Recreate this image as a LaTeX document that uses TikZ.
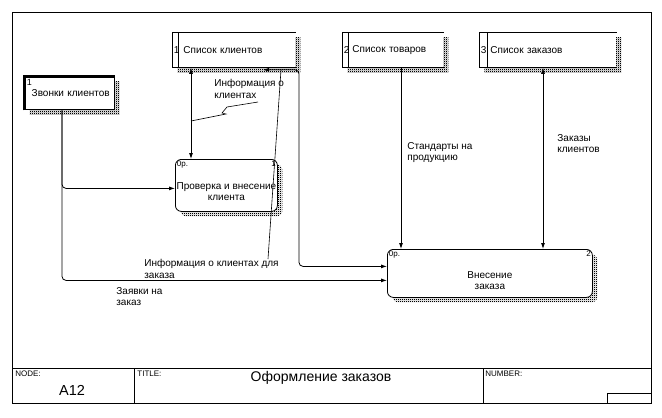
\documentclass[tikz,border=0pt]{standalone}
\usepackage{fontspec}
\setmainfont{Liberation Sans}
\usepackage{tikz}
\usetikzlibrary{arrows.meta,shadows,patterns}

\pgfdeclarepatternformonly{dither}{\pgfpointorigin}{\pgfpoint{2pt}{2pt}}{\pgfpoint{2pt}{2pt}}{%
  \pgfpathrectangle{\pgfpointorigin}{\pgfpoint{1.2pt}{1.2pt}}%
  \pgfpathrectangle{\pgfpoint{1pt}{1pt}}{\pgfpoint{1.2pt}{1.2pt}}%
  \pgfusepath{fill}}

\begin{document}
\begin{tikzpicture}[x=1pt,y=-1pt,line width=0.8pt,
  font=\fontsize{10}{11.5}\selectfont,
  shadebox/.style={general shadow={pattern=dither,shadow xshift=5pt,shadow yshift=-5pt}},
  tag/.style={font=\fontsize{8}{9}\selectfont,inner sep=1.5pt},
  store/.style={shadebox,fill=white,anchor=north west,minimum height=35pt,inner xsep=11pt,align=left,
    label={[tag,anchor=west,font=\fontsize{10}{11}\selectfont,inner xsep=1.5pt]west:#1}},
  extbox/.style={shadebox,draw,fill=white,line width=1.4pt,anchor=north west,minimum width=90pt,minimum height=33pt},
  process/.style={shadebox,draw,fill=white,rounded corners=6pt,anchor=north west},
  lbl/.style={anchor=north west,align=left,inner sep=0pt},
  tb/.style={anchor=north west,inner sep=0pt,font=\fontsize{8}{9}\selectfont},
  flow/.style={-{Latex[length=6pt,width=4pt]}},
  both/.style={{Latex[length=6pt,width=4pt]}-{Latex[length=6pt,width=4pt]}}]
\useasboundingbox (0,0) rectangle (662,418);

\draw (12,12) rectangle (651,403);
\draw (12,368) -- (651,368) (134,368) -- (134,403) (483,368) -- (483,403);
\draw (607,393) rectangle (651,403);
\node[tb] (nd) at (15,371) {NODE:};
\node[font=\fontsize{14.5}{16}\selectfont] (a12) at (72,390) {A12};
\node[tb] (tt) at (137,371) {TITLE:};
\node[font=\fontsize{14}{15}\selectfont] (title) at (321,378) {Оформление заказов};
\node[tb] (nb) at (485,371) {NUMBER:};

\node[extbox,text width=80pt,inner xsep=5pt,align=right,
  label={[tag,anchor=north west,font=\fontsize{9}{10}\selectfont,inner sep=2.5pt]north west:1}] (ext) at (24,76) {Звонки клиентов};
\draw[line width=3pt] (ext.south west) -- (ext.north west) -- (ext.north east);

\node[store=1,text width=101pt] (s1) at (172,32) {Список клиентов};
\node[store=2,text width=81pt,inner xsep=10pt] (s2) at (342,32) {Список товаров};
\node[store=3,text width=115pt] (s3) at (479,32) {Список заказов};
\foreach \s/\d in {s1/6,s2/6,s3/8}{
  \draw (\s.north east) -- (\s.north west) -- (\s.south west) -- (\s.south east);
  \draw ([xshift=\d pt]\s.north west) -- ([xshift=\d pt]\s.south west);
}

\node[process,minimum width=102pt,minimum height=52pt,
  label={[tag,anchor=north west]north west:0р.},
  label={[tag,anchor=north east]north east:1}] (p1) at (175,159) {};
\node[align=center] (p1t) at ([yshift=-6pt]p1.center) {Проверка и внесение\\клиента};
\node[process,minimum width=205pt,minimum height=48pt,
  label={[tag,anchor=north west]north west:0р.},
  label={[tag,anchor=north east]north east:2}] (p2) at (387,249) {};
\node[align=center] (p2t) at ([yshift=-7pt]p2.center) {Внесение\\заказа};

\draw[flow,rounded corners=4pt] ([xshift=38pt]ext.south west) |- ([yshift=-3pt]p1.west);
\draw[flow,rounded corners=4pt] ([xshift=38pt]ext.south west) |- ([yshift=-7pt]p2.west);
\draw[both] ([xshift=19pt]s1.south west) -- ([xshift=16pt]p1.north west);
\draw[both,rounded corners=4pt] ([xshift=91pt,yshift=-2pt]s1.south west) -- ++(36,0) |- ([yshift=7pt]p2.west);
\draw[flow] ([xshift=59pt]s2.south west) -- ([xshift=14pt]p2.north west);
\draw[both] ([xshift=64pt]s3.south west) -- ([xshift=156pt]p2.north west);

\node[lbl] (l1) at (214,79) {Информация о\\клиентах};
\node[lbl] (l2) at (407,142) {Стандарты на\\продукцию};
\node[lbl] (l3) at (557,134) {Заказы\\клиентов};
\node[lbl] (l4) at (116,287) {Заявки на\\заказ};
\node[lbl] (l5) at (144,259) {Информация о клиентах для\\заказа};

\coordinate (k1) at (258,102);
\coordinate (k2) at (191,121);
\draw[line width=0.6pt] (k1) -- (227,107) -- (222,113) -- (226,114) -- (k2);
\coordinate (k3) at (268,259);
\coordinate (k4) at (281,70);
\draw[line width=0.6pt] (k3) -- (k4);
\end{tikzpicture}
\end{document}
